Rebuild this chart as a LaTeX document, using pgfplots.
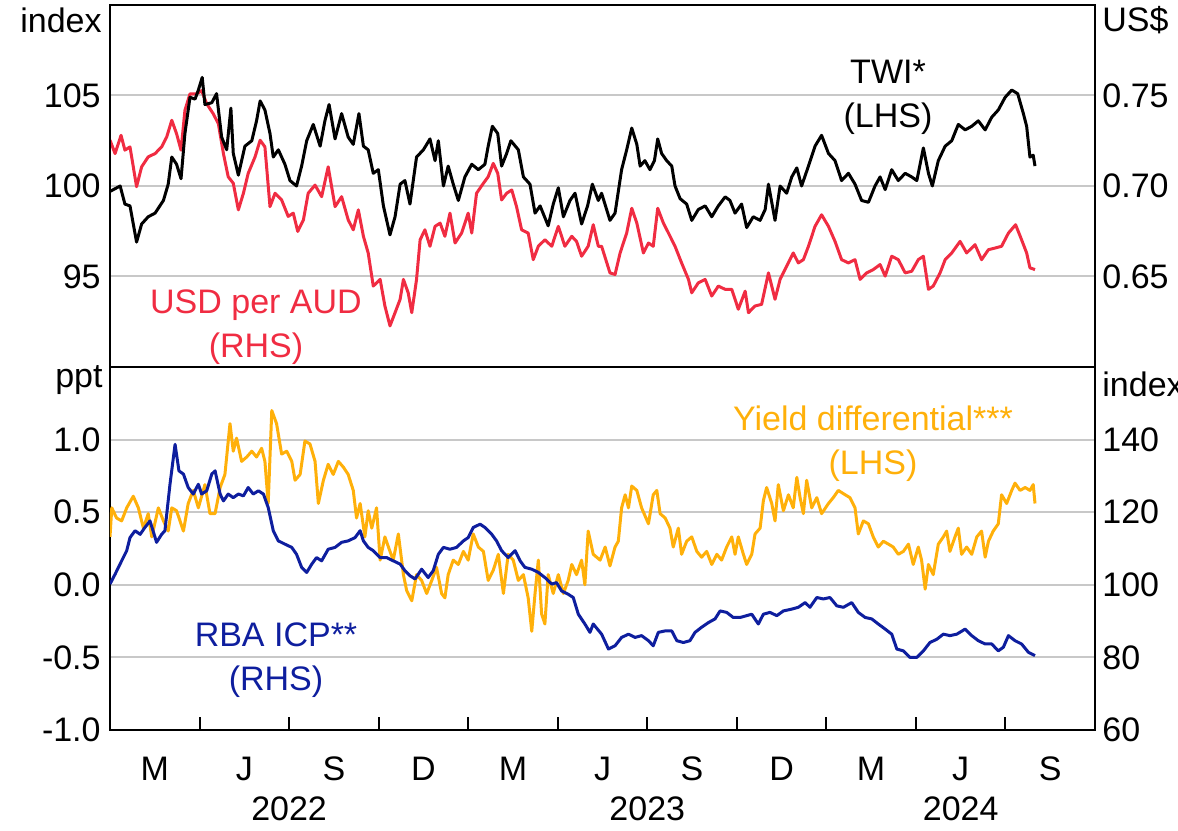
\documentclass[border=0pt]{standalone}
\usepackage{fontspec}
\setmainfont{Liberation Sans}
\usepackage{pgfplots}
\pgfplotsset{compat=1.18}
\definecolor{audred}{RGB}{240,44,66}
\definecolor{ydorange}{RGB}{255,176,10}
\definecolor{icpblue}{RGB}{14,30,158}
\definecolor{gridgray}{RGB}{200,200,200}
\newcommand{\chartfont}{\fontsize{17}{22}\selectfont}
\begin{document}
\begin{tikzpicture}
\useasboundingbox (0,0) rectangle (589pt,415pt);
\pgfplotsset{
  panel/.style={
    scale only axis, width=492.5pt, xmin=0, xmax=33,
    axis line style={line width=1pt, black},
    tick label style={font=\chartfont},
    major tick length=0pt,
    every axis plot/.append style={line width=1.5pt, line join=round, mark=none},
  },
  lefty/.style={yticklabel style={anchor=east, inner sep=0pt, xshift=-4.5pt}},
  righty/.style={axis y line*=right, axis x line=none, ytick pos=right,
    yticklabel style={anchor=west, inner sep=0pt, xshift=3.5pt}},
}
% ---------------- TOP PANEL: right axis (USD per AUD) ----------------
\begin{axis}[panel, righty, at={(55pt,231.5pt)}, anchor=south west, height=181pt,
  ymin=0.60, ymax=0.80, ytick={0.65,0.70,0.75}, yticklabels={0.65,0.70,0.75},
  ymajorgrids, grid style={gridgray, line width=1pt}, xtick=\empty]
\addplot[audred] coordinates {
(0.00,0.7253)(0.17,0.7179)(0.37,0.7280)(0.50,0.7198)(0.67,0.7216)(0.89,0.6996)(1.06,0.7106)(1.28,0.7161)
(1.51,0.7179)(1.73,0.7216)(1.90,0.7271)(2.07,0.7363)(2.23,0.7289)(2.38,0.7198)(2.51,0.7418)(2.68,0.7509)
(2.90,0.7509)(3.07,0.7527)(3.24,0.7454)(3.46,0.7399)(3.63,0.7344)(3.80,0.7179)(3.96,0.7051)(4.13,0.7015)
(4.30,0.6868)(4.47,0.6960)(4.63,0.7070)(4.86,0.7161)(5.03,0.7253)(5.19,0.7216)(5.36,0.6886)(5.53,0.6960)
(5.75,0.6923)(5.97,0.6832)(6.14,0.6850)(6.29,0.6749)(6.48,0.6813)(6.64,0.6960)(6.87,0.7005)(7.09,0.6941)
(7.31,0.7106)(7.54,0.6886)(7.76,0.6941)(7.98,0.6813)(8.15,0.6758)(8.32,0.6868)(8.49,0.6722)(8.65,0.6630)
(8.82,0.6447)(9.05,0.6484)(9.21,0.6337)(9.38,0.6227)(9.55,0.6300)(9.72,0.6374)(9.83,0.6484)(9.99,0.6410)
(10.11,0.6300)(10.27,0.6484)(10.39,0.6703)(10.55,0.6758)(10.72,0.6667)(10.89,0.6777)(11.06,0.6795)(11.22,0.6722)
(11.39,0.6850)(11.56,0.6685)(11.78,0.6740)(12.00,0.6850)(12.12,0.6740)(12.28,0.6960)(12.51,0.7015)(12.67,0.7051)
(12.84,0.7125)(12.99,0.7070)(13.12,0.6923)(13.29,0.6960)(13.46,0.6978)(13.62,0.6886)(13.79,0.6758)(14.01,0.6740)
(14.18,0.6593)(14.35,0.6667)(14.57,0.6703)(14.80,0.6667)(15.02,0.6777)(15.24,0.6667)(15.47,0.6722)(15.63,0.6694)
(15.80,0.6612)(16.02,0.6667)(16.19,0.6786)(16.36,0.6667)(16.47,0.6667)(16.75,0.6520)(16.92,0.6511)(17.09,0.6630)
(17.31,0.6740)(17.48,0.6877)(17.65,0.6795)(17.87,0.6630)(18.04,0.6685)(18.20,0.6667)(18.35,0.6877)(18.54,0.6795)
(18.71,0.6740)(18.93,0.6667)(19.15,0.6575)(19.38,0.6484)(19.49,0.6410)(19.71,0.6465)(19.94,0.6484)(20.16,0.6392)
(20.38,0.6447)(20.61,0.6429)(20.83,0.6429)(21.05,0.6319)(21.28,0.6419)(21.39,0.6300)(21.61,0.6337)(21.83,0.6346)
(22.06,0.6520)(22.28,0.6374)(22.45,0.6484)(22.67,0.6557)(22.89,0.6630)(23.06,0.6575)(23.23,0.6593)(23.40,0.6667)
(23.62,0.6777)(23.84,0.6841)(24.07,0.6777)(24.29,0.6694)(24.51,0.6593)(24.74,0.6575)(24.96,0.6593)(25.13,0.6484)
(25.35,0.6520)(25.57,0.6538)(25.80,0.6566)(25.97,0.6502)(26.19,0.6612)(26.41,0.6593)(26.64,0.6520)(26.86,0.6529)
(27.08,0.6593)(27.25,0.6612)(27.42,0.6429)(27.58,0.6447)(27.81,0.6520)(27.98,0.6593)(28.20,0.6630)(28.48,0.6694)
(28.70,0.6630)(28.98,0.6676)(29.20,0.6593)(29.43,0.6648)(29.65,0.6657)(29.87,0.6667)(30.10,0.6740)(30.34,0.6786)
(30.54,0.6703)(30.71,0.6630)(30.82,0.6548)(30.99,0.6538)
};
\end{axis}
% ---------------- TOP PANEL: left axis (TWI) ----------------
\begin{axis}[panel, lefty, at={(55pt,231.5pt)}, anchor=south west, height=181pt,
  ymin=90, ymax=110, ytick={95,100,105}, yticklabels={95,100,105}, ytick pos=left,
  xtick=\empty]
\addplot[black] coordinates {
(0.00,99.7)(0.34,100.0)(0.50,99.0)(0.67,98.9)(0.89,96.9)(1.06,97.9)(1.28,98.3)(1.51,98.5)
(1.79,99.2)(1.95,100.1)(2.07,101.6)(2.23,101.2)(2.38,100.4)(2.51,102.9)(2.68,104.9)(2.85,104.8)
(2.96,105.3)(3.09,106.0)(3.18,104.5)(3.41,104.6)(3.57,105.1)(3.74,102.7)(3.91,102.0)(4.05,104.3)
(4.13,101.8)(4.30,100.6)(4.52,102.2)(4.75,102.5)(4.91,103.6)(5.03,104.7)(5.19,104.2)(5.36,102.9)
(5.47,101.6)(5.64,102.0)(5.86,101.2)(6.03,100.3)(6.25,100.0)(6.42,101.1)(6.59,102.5)(6.81,103.4)
(7.04,102.2)(7.20,103.6)(7.34,104.5)(7.54,102.6)(7.76,104.0)(7.98,102.7)(8.15,102.3)(8.34,104.0)
(8.49,102.2)(8.65,102.0)(8.82,100.7)(8.99,100.9)(9.16,98.9)(9.38,97.3)(9.55,98.3)(9.72,100.1)
(9.88,100.3)(10.05,99.0)(10.27,101.6)(10.50,102.0)(10.72,102.6)(10.89,101.4)(11.00,102.5)(11.17,100.0)
(11.33,101.1)(11.50,100.1)(11.67,99.2)(11.89,100.5)(12.12,101.2)(12.34,100.9)(12.56,101.2)(12.67,102.2)
(12.81,103.3)(12.99,102.9)(13.12,101.1)(13.29,101.8)(13.43,102.5)(13.68,102.0)(13.85,100.5)(14.07,100.1)
(14.24,98.5)(14.41,98.9)(14.68,97.8)(14.85,99.0)(15.02,99.9)(15.19,98.3)(15.41,99.2)(15.58,99.6)
(15.80,97.9)(16.00,98.9)(16.16,100.1)(16.36,99.2)(16.47,99.6)(16.75,98.1)(16.92,98.5)(17.14,100.9)
(17.31,102.0)(17.48,103.2)(17.65,102.3)(17.76,101.1)(17.92,101.4)(18.09,100.9)(18.24,101.4)(18.35,102.6)
(18.48,101.8)(18.65,101.4)(18.82,101.1)(18.93,100.0)(19.10,99.3)(19.32,99.0)(19.49,98.1)(19.71,98.7)
(19.94,98.9)(20.16,98.3)(20.38,98.9)(20.61,99.4)(20.77,99.2)(20.94,98.5)(21.16,99.0)(21.33,97.7)
(21.55,98.3)(21.78,98.1)(21.95,98.7)(22.06,100.1)(22.28,98.1)(22.45,100.0)(22.67,99.6)(22.84,100.5)
(23.01,101.0)(23.17,100.0)(23.40,101.1)(23.62,102.2)(23.84,102.8)(24.07,101.8)(24.29,101.4)(24.51,100.3)
(24.74,100.7)(24.96,100.1)(25.18,99.2)(25.41,99.1)(25.63,100.0)(25.80,100.5)(25.97,99.8)(26.19,100.9)
(26.41,100.3)(26.64,100.7)(26.86,100.5)(27.03,100.3)(27.25,102.1)(27.42,100.7)(27.55,100.0)(27.75,101.4)
(27.98,102.2)(28.20,102.5)(28.42,103.4)(28.65,103.1)(28.87,103.3)(29.09,103.6)(29.32,103.1)(29.54,103.8)
(29.76,104.2)(29.99,104.9)(30.21,105.3)(30.41,105.1)(30.60,104.0)(30.71,103.3)(30.82,101.6)(30.93,101.7)
(30.99,101.1)
};
\end{axis}
% ---------------- BOTTOM PANEL: left axis (yield differential) ----------------
\begin{axis}[panel, lefty, at={(55pt,50pt)}, anchor=south west, height=181.5pt,
  ymin=-1, ymax=1.5, ytick={-1,-0.5,0,0.5,1}, yticklabels={-1.0,-0.5,0.0,0.5,1.0}, ytick pos=left,
  ymajorgrids, grid style={gridgray, line width=1pt},
  xtick={1.5,4.5,7.5,10.5,13.5,16.5,19.5,22.5,25.5,28.5,31.5},
  xticklabels={M,J,S,D,M,J,S,D,M,J,S}, xtick pos=left,
  xticklabel style={anchor=base, inner sep=0pt, yshift=-25.5pt},
  extra x ticks={3,6,9,12,15,18,21,24,27,30},
  extra x tick labels={},
  extra x tick style={major tick length=6.5pt, tick align=inside, tick style={black, line width=1pt}, grid=none}]
\addplot[ydorange] coordinates {
(0.00,0.33)(0.06,0.53)(0.22,0.46)(0.39,0.44)(0.56,0.53)(0.78,0.61)(0.95,0.53)(1.12,0.39)(1.28,0.49)(1.40,0.33)
(1.62,0.53)(1.79,0.44)(1.95,0.37)(2.07,0.53)(2.23,0.51)(2.46,0.37)(2.62,0.56)(2.79,0.65)(2.96,0.53)(3.18,0.69)
(3.35,0.49)(3.52,0.49)(3.69,0.67)(3.85,0.76)(4.02,1.11)(4.13,0.92)(4.24,1.01)(4.41,0.85)(4.58,0.88)(4.75,0.92)
(4.91,0.88)(5.08,0.94)(5.19,0.85)(5.30,0.56)(5.42,1.20)(5.58,1.11)(5.75,0.90)(5.92,0.92)(6.09,0.85)(6.20,0.72)
(6.37,0.76)(6.53,0.99)(6.70,0.97)(6.87,0.85)(6.98,0.56)(7.15,0.72)(7.31,0.83)(7.48,0.76)(7.65,0.85)(7.82,0.81)
(7.98,0.76)(8.15,0.65)(8.26,0.46)(8.38,0.56)(8.54,0.33)(8.65,0.51)(8.77,0.39)(8.93,0.53)(9.05,0.17)(9.21,0.33)
(9.38,0.23)(9.49,0.17)(9.66,0.35)(9.83,0.07)(9.94,-0.04)(10.11,-0.11)(10.27,0.07)(10.44,0.03)(10.61,-0.06)(10.78,0.03)
(10.94,0.12)(11.11,-0.06)(11.22,-0.09)(11.33,0.07)(11.50,0.17)(11.67,0.14)(11.84,0.23)(12.00,0.17)(12.17,0.35)(12.34,0.26)
(12.51,0.23)(12.67,0.03)(12.84,0.10)(13.01,0.21)(13.18,-0.06)(13.34,0.21)(13.51,0.17)(13.68,0.03)(13.85,0.07)(14.01,-0.09)
(14.13,-0.32)(14.24,-0.06)(14.35,0.17)(14.46,-0.20)(14.57,-0.27)(14.68,0.07)(14.85,-0.06)(15.02,0.07)(15.19,-0.06)(15.35,0.03)
(15.47,0.14)(15.63,0.07)(15.80,0.17)(15.91,0.00)(16.02,0.37)(16.19,0.21)(16.42,0.17)(16.59,0.26)(16.75,0.13)(16.92,0.26)
(17.03,0.30)(17.14,0.53)(17.26,0.62)(17.37,0.53)(17.48,0.68)(17.65,0.65)(17.81,0.53)(18.04,0.42)(18.20,0.62)(18.32,0.65)
(18.43,0.49)(18.60,0.46)(18.76,0.39)(18.87,0.26)(19.04,0.39)(19.15,0.21)(19.32,0.30)(19.49,0.33)(19.66,0.23)(19.82,0.19)
(19.99,0.23)(20.16,0.14)(20.33,0.21)(20.49,0.17)(20.66,0.26)(20.83,0.33)(20.94,0.21)(21.05,0.33)(21.22,0.21)(21.33,0.14)
(21.50,0.21)(21.61,0.35)(21.78,0.39)(21.89,0.58)(22.00,0.67)(22.17,0.56)(22.28,0.44)(22.39,0.69)(22.56,0.51)(22.73,0.62)
(22.89,0.53)(23.01,0.74)(23.12,0.60)(23.23,0.49)(23.34,0.72)(23.51,0.53)(23.68,0.60)(23.84,0.49)(24.07,0.56)(24.23,0.60)
(24.40,0.65)(24.63,0.62)(24.79,0.60)(24.96,0.53)(25.07,0.35)(25.24,0.44)(25.41,0.42)(25.57,0.33)(25.74,0.26)(25.91,0.30)
(26.08,0.28)(26.24,0.26)(26.41,0.21)(26.58,0.23)(26.75,0.28)(26.91,0.14)(27.08,0.26)(27.19,0.17)(27.31,-0.03)(27.42,0.14)
(27.58,0.07)(27.75,0.28)(27.92,0.33)(28.03,0.37)(28.14,0.23)(28.31,0.33)(28.42,0.39)(28.53,0.21)(28.70,0.26)(28.87,0.21)
(29.04,0.33)(29.20,0.37)(29.32,0.19)(29.43,0.30)(29.59,0.37)(29.76,0.42)(29.87,0.62)(30.04,0.56)(30.21,0.65)(30.32,0.70)
(30.49,0.65)(30.66,0.67)(30.82,0.65)(30.93,0.69)(30.99,0.56)
};
\coordinate (y2022) at (axis cs:6,-1);
\coordinate (y2023) at (axis cs:18,-1);
\coordinate (y2024) at (axis cs:28.5,-1);
\end{axis}
% ---------------- BOTTOM PANEL: right axis (RBA ICP) ----------------
\begin{axis}[panel, righty, at={(55pt,50pt)}, anchor=south west, height=181.5pt,
  ymin=60, ymax=160, ytick={60,80,100,120,140}, yticklabels={60,80,100,120,140}, xtick=\empty]
\addplot[icpblue] coordinates {
(0.00,100.2)(0.17,102.9)(0.39,106.6)(0.56,109.4)(0.67,113.0)(0.84,114.9)(1.01,113.9)(1.17,115.8)(1.34,117.6)(1.56,111.7)
(1.73,113.9)(1.84,114.9)(2.01,127.7)(2.18,138.7)(2.31,131.4)(2.46,130.5)(2.62,126.8)(2.79,125.0)(2.96,127.7)(3.07,125.0)
(3.24,125.9)(3.41,130.5)(3.52,131.4)(3.69,125.0)(3.80,123.1)(3.96,125.0)(4.13,124.0)(4.30,125.0)(4.47,124.5)(4.63,126.8)
(4.80,125.0)(4.97,125.9)(5.14,125.0)(5.30,121.3)(5.47,114.9)(5.64,112.1)(5.86,111.2)(6.09,110.3)(6.25,108.4)(6.42,104.8)
(6.59,103.4)(6.76,105.7)(6.92,107.5)(7.09,106.6)(7.31,109.8)(7.54,110.3)(7.76,111.7)(7.98,112.1)(8.21,113.0)(8.38,114.9)
(8.49,112.1)(8.65,110.3)(8.82,109.4)(9.05,107.5)(9.27,107.5)(9.49,106.6)(9.72,105.7)(9.88,103.9)(10.05,102.5)(10.22,101.6)
(10.44,104.3)(10.66,102.0)(10.83,103.9)(11.00,108.4)(11.17,110.3)(11.39,109.8)(11.61,110.3)(11.84,112.1)(12.00,113.0)(12.17,115.8)
(12.40,116.7)(12.56,115.8)(12.79,113.9)(12.95,112.1)(13.12,109.4)(13.34,107.5)(13.57,109.4)(13.74,106.6)(13.90,104.8)(14.13,104.3)
(14.35,103.4)(14.57,102.0)(14.80,100.2)(14.96,100.6)(15.13,98.3)(15.35,97.4)(15.52,96.5)(15.69,91.9)(15.91,89.2)(16.08,86.9)
(16.19,89.2)(16.47,86.4)(16.70,82.3)(16.92,83.2)(17.14,85.5)(17.37,86.4)(17.59,85.5)(17.81,86.0)(18.04,84.6)(18.20,83.2)
(18.37,86.9)(18.60,87.3)(18.82,87.3)(18.99,84.6)(19.21,84.1)(19.43,84.6)(19.60,86.9)(19.82,88.3)(20.05,89.6)(20.27,90.6)
(20.44,92.8)(20.66,92.4)(20.88,91.0)(21.11,91.0)(21.33,91.5)(21.50,91.9)(21.72,89.2)(21.89,91.9)(22.11,92.4)(22.34,91.5)
(22.56,92.8)(22.84,93.3)(23.06,93.8)(23.29,95.1)(23.45,93.8)(23.68,96.5)(23.90,96.1)(24.12,96.5)(24.35,94.2)(24.57,93.8)
(24.85,95.1)(25.07,92.4)(25.30,91.0)(25.52,90.6)(25.74,89.2)(25.97,87.8)(26.19,86.4)(26.36,82.3)(26.58,81.8)(26.80,80.0)
(27.03,80.0)(27.25,81.8)(27.47,84.1)(27.70,85.0)(27.92,86.4)(28.14,86.0)(28.37,86.4)(28.65,87.8)(28.87,86.0)(29.09,84.6)
(29.32,83.7)(29.54,83.7)(29.76,81.8)(29.93,82.8)(30.10,86.0)(30.32,84.6)(30.54,83.7)(30.77,81.4)(30.99,80.5)
};
\end{axis}
% ---------------- text ----------------
\node[font=\chartfont, anchor=base east, inner sep=0pt] at (51pt,398.5pt) {index};
\node[font=\chartfont, anchor=base west, inner sep=0pt] at (551pt,399pt) {US\$};
\node[font=\chartfont, anchor=base east, inner sep=0pt] at (51.5pt,221pt) {ppt};
\node[font=\chartfont, anchor=base west, inner sep=0pt] at (551pt,216.5pt) {index};
\node[font=\chartfont, align=center, inner sep=0pt] at (444pt,366.5pt) {TWI*\\(LHS)};
\node[font=\chartfont, align=center, inner sep=0pt, text=audred] at (128pt,251.5pt) {USD per AUD\\(RHS)};
\node[font=\chartfont, align=center, inner sep=0pt, text=icpblue] at (138pt,85pt) {RBA ICP**\\(RHS)};
\node[font=\chartfont, align=center, inner sep=0pt, text=ydorange] at (436.5pt,193pt) {Yield differential***\\(LHS)};
\node[font=\chartfont, anchor=base, inner sep=0pt] at ([yshift=-45pt]y2022) {2022};
\node[font=\chartfont, anchor=base, inner sep=0pt] at ([yshift=-45pt]y2023) {2023};
\node[font=\chartfont, anchor=base, inner sep=0pt] at ([yshift=-45pt]y2024) {2024};
\end{tikzpicture}
\end{document}
